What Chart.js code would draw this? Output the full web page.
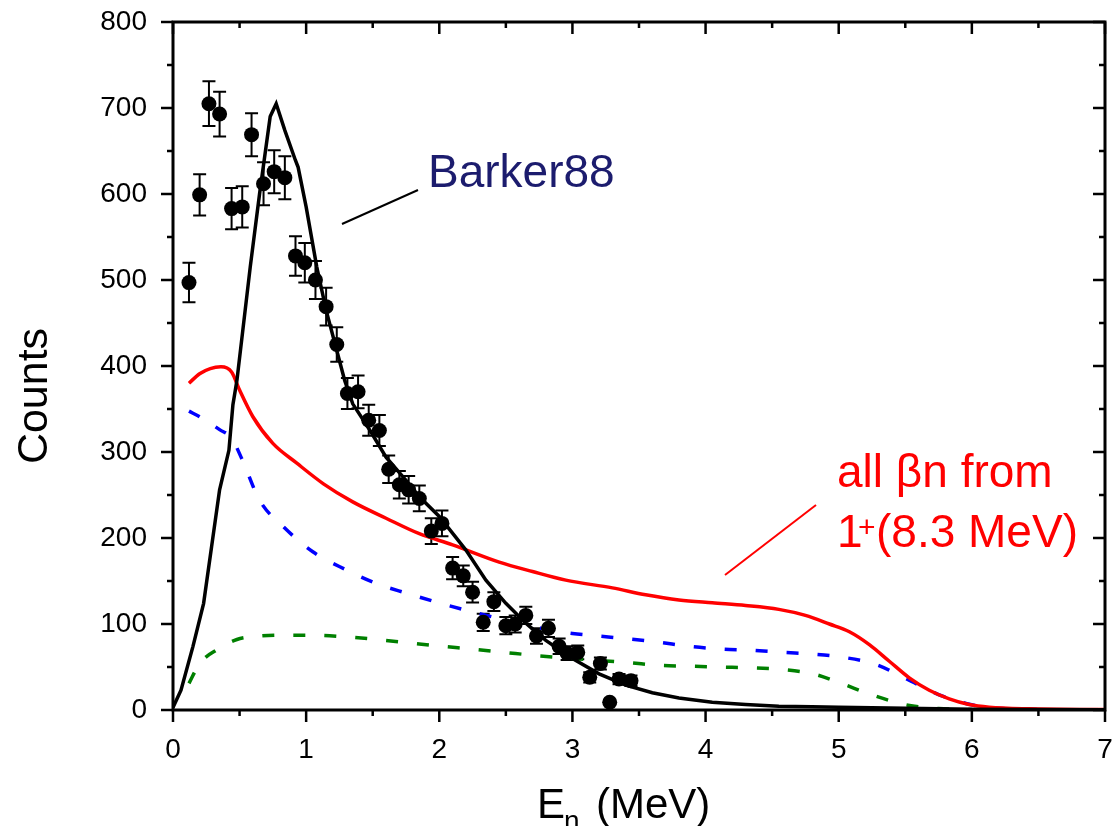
<!DOCTYPE html>
<html>
<head>
<meta charset="utf-8">
<script src="https://cdn.jsdelivr.net/npm/chart.js@4.4.1/dist/chart.umd.min.js"></script>
<style>
  body { margin: 0; background: #fff; }
  canvas { display: block; }
</style>
</head>
<body>
<canvas id="spectrumChart" width="1115" height="826"></canvas>
<script>
// measured neutron energy spectrum (points with error bars)
var dataE = [0.12, 0.20, 0.27, 0.35, 0.44, 0.52, 0.59, 0.68, 0.76, 0.84, 0.92, 0.99, 1.07, 1.15, 1.23,
             1.31, 1.39, 1.47, 1.55, 1.62, 1.70, 1.77, 1.85, 1.94, 2.02, 2.10, 2.18, 2.25, 2.33, 2.41,
             2.50, 2.57, 2.65, 2.73, 2.82, 2.90, 2.96, 3.04, 3.13, 3.21, 3.28, 3.35, 3.44];
var dataCounts = [497, 599, 705, 693, 583, 585, 669, 612, 626, 619, 528, 520, 500, 469, 425,
                  368, 370, 337, 325, 280, 262, 256, 246, 208, 217, 165, 156, 137, 102, 126,
                  98, 100, 110, 86, 95, 74, 66, 67, 38, 54, 9, 36, 34];
var dataErr = [23, 24, 26, 26, 24, 24, 25, 25, 25, 25, 23, 23, 22, 22, 20,
               18, 19, 18, 18, 16, 16, 16, 15, 15, 15, 13, 12, 12, 10, 11,
               10, 10, 10, 9, 10, 9, 8, 8, 6, 7, 0, 6, 6];

// Barker88 calculation (black)
var barkerE = [0, 0.06, 0.15, 0.23, 0.29, 0.35, 0.42, 0.45, 0.48, 0.58, 0.65, 0.73, 0.775, 0.84, 0.92, 0.94,
               1.0, 1.08, 1.15, 1.23, 1.29, 1.35, 1.48, 1.6, 1.75, 1.85, 2.0, 2.2, 2.35, 2.5, 2.65, 2.8,
               3.0, 3.2, 3.4, 3.6, 3.8, 4.05, 4.3, 4.55, 4.8, 5.0, 5.5, 6.0, 6.5, 7.0];
var barkerCounts = [3, 23, 74, 124, 190, 256, 302, 355, 383, 515, 600, 690, 705, 674, 639, 631,
                    585, 515, 465, 418, 383, 356, 325, 294, 267, 248, 225, 186, 151, 124, 101, 81,
                    60, 42, 29, 20, 14, 9, 6.4, 4.5, 3.7, 3.3, 2, 1, 0.5, 0.3];

// all beta-n from 1+ (8.3 MeV) (red)
var allBnE = [0.12, 0.2, 0.28, 0.36, 0.44, 0.5, 0.6, 0.75, 0.93, 1.13, 1.35, 1.6, 1.85, 2.1, 2.45, 2.7,
              2.95, 3.3, 3.55, 3.8, 4.05, 4.3, 4.55, 4.75, 4.93, 5.08, 5.23, 5.38, 5.53, 5.68,
              5.83, 5.98, 6.13, 6.43, 7.0];
var allBnCounts = [380, 391, 397, 399, 393, 372, 341, 310, 287, 263, 242, 223, 205, 192, 172, 161,
                   151, 142, 134, 128, 124.6, 121.5, 117, 110, 100, 91, 76, 56.7, 37.4, 23,
                   13, 6.4, 3.3, 1.4, 0.5];

// blue dashed component
var blueE = [0.12, 0.2, 0.35, 0.44, 0.52, 0.65, 0.83, 1.05, 1.3, 1.53, 1.75, 2.0, 2.25, 2.5, 2.75,
             3.0, 3.2, 3.4, 3.64, 3.88, 4.11, 4.34, 4.58, 4.81, 5.0, 5.28, 5.51, 5.75, 5.99, 6.2, 6.5];
var blueCounts = [347.5, 341, 326, 316, 291, 244, 213, 184, 163, 147, 136, 124.5, 114, 104.6, 95.6,
                  89, 86, 83, 79, 74, 71, 69.5, 67, 65, 62, 53, 36, 18, 6.4, 2, 0.5];

// green dashed component
var greenE = [0.12, 0.2, 0.33, 0.48, 0.63, 0.83, 1.05, 1.3, 1.53, 1.78, 2.0, 2.25, 2.5, 2.75, 3.0,
              3.25, 3.43, 3.64, 3.88, 4.11, 4.35, 4.58, 4.81, 5.0, 5.28, 5.52, 5.75, 6.0];
var greenCounts = [31, 54, 70, 82, 85.7, 87, 87, 85, 82, 78, 74.4, 70.7, 66.8, 63, 60,
                   57, 55, 52, 51, 50, 49, 47, 42, 32, 16, 5.6, 1.7, 0.5];

var xRange = [0, 7];
var yRange = [0, 800];

var FONT = '"Liberation Sans", Arial, sans-serif';

function toPoints(xs, ys) {
    return xs.map(function (x, i) { return { x: x, y: ys[i] }; });
}

var decorPlugin = {
    id: 'decor',
    beforeDatasetsDraw: function (chart) {
        // error bars under the markers
        var ctx = chart.ctx, sx = chart.scales.x, sy = chart.scales.y;
        ctx.save();
        ctx.strokeStyle = '#000';
        ctx.lineWidth = 2;
        ctx.beginPath();
        dataE.forEach(function (e, i) {
            if (!dataErr[i]) return;
            var px = sx.getPixelForValue(e);
            var top = sy.getPixelForValue(dataCounts[i] + dataErr[i]);
            var bot = sy.getPixelForValue(dataCounts[i] - dataErr[i]);
            ctx.moveTo(px, top); ctx.lineTo(px, bot);
            ctx.moveTo(px - 6.5, top); ctx.lineTo(px + 6.5, top);
            ctx.moveTo(px - 6.5, bot); ctx.lineTo(px + 6.5, bot);
        });
        ctx.stroke();
        ctx.restore();
    },
    afterDraw: function (chart) {
        var ctx = chart.ctx, a = chart.chartArea, sx = chart.scales.x, sy = chart.scales.y;
        ctx.save();
        ctx.strokeStyle = '#000';
        ctx.lineWidth = 3;
        ctx.strokeRect(a.left, a.top, a.right - a.left, a.bottom - a.top);

        // major + minor ticks: outward on bottom/left, inward on top/right
        ctx.lineWidth = 2.5;
        ctx.beginPath();
        for (var v = xRange[0]; v <= xRange[1]; v += 0.5) {
            var px = sx.getPixelForValue(v);
            var len = (v % 1 === 0) ? 12 : 6;
            ctx.moveTo(px, a.bottom); ctx.lineTo(px, a.bottom + len);
            ctx.moveTo(px, a.top); ctx.lineTo(px, a.top + len);
        }
        for (var c = yRange[0]; c <= yRange[1]; c += 50) {
            var py = sy.getPixelForValue(c);
            var l = (c % 100 === 0) ? 12 : 6;
            ctx.moveTo(a.left, py); ctx.lineTo(a.left - l, py);
            ctx.moveTo(a.right, py); ctx.lineTo(a.right - l, py);
        }
        ctx.stroke();

        // axis titles
        ctx.fillStyle = '#000';
        ctx.textBaseline = 'alphabetic';
        ctx.save();
        ctx.translate(47, 396);
        ctx.rotate(-Math.PI / 2);
        ctx.textAlign = 'center';
        ctx.font = '43px ' + FONT;
        ctx.fillText('Counts', 0, 0);
        ctx.restore();

        ctx.textAlign = 'left';
        ctx.font = '42px ' + FONT;
        ctx.fillText('E', 537, 818);
        ctx.font = '28px ' + FONT;
        ctx.fillText('n', 564, 830);
        ctx.font = '42px ' + FONT;
        ctx.fillText('(MeV)', 596, 818);

        // Barker88 label
        ctx.strokeStyle = '#000';
        ctx.lineWidth = 2;
        ctx.beginPath();
        ctx.moveTo(342, 224); ctx.lineTo(418, 190);
        ctx.stroke();
        ctx.fillStyle = '#1c1c6e';
        ctx.font = '46px ' + FONT;
        ctx.fillText('Barker88', 428, 187);

        // red label
        ctx.strokeStyle = '#ff0000';
        ctx.beginPath();
        ctx.moveTo(725, 575); ctx.lineTo(816, 505);
        ctx.stroke();
        ctx.fillStyle = '#ff0000';
        ctx.font = '46px ' + FONT;
        ctx.fillText('all \u03B2n from', 837, 487);
        ctx.fillText('1', 837, 547);
        ctx.font = '30px ' + FONT;
        ctx.fillText('+', 858, 537);
        ctx.font = '46px ' + FONT;
        ctx.fillText('(8.3 MeV)', 876, 547);
        ctx.restore();
    }
};

var ctx = document.getElementById('spectrumChart').getContext('2d');
var spectrumChart = new Chart(ctx, {
    type: 'scatter',
    data: {
        datasets: [
            {
                label: 'data',
                data: toPoints(dataE, dataCounts),
                pointRadius: 7.5,
                pointBackgroundColor: '#000',
                pointBorderWidth: 0,
                showLine: false
            },
            {
                label: 'Barker88',
                data: toPoints(barkerE, barkerCounts),
                showLine: true,
                borderColor: '#000',
                borderWidth: 3.5,
                pointRadius: 0,
                tension: 0
            },
            {
                label: 'all bn',
                data: toPoints(allBnE, allBnCounts),
                showLine: true,
                borderColor: '#ff0000',
                borderWidth: 3.5,
                pointRadius: 0,
                cubicInterpolationMode: 'monotone'
            },
            {
                label: 'blue',
                data: toPoints(blueE, blueCounts),
                showLine: true,
                borderColor: '#0000ff',
                borderWidth: 3.5,
                borderDash: [12, 19],
                pointRadius: 0,
                cubicInterpolationMode: 'monotone'
            },
            {
                label: 'green',
                data: toPoints(greenE, greenCounts),
                showLine: true,
                borderColor: '#008000',
                borderWidth: 3.5,
                borderDash: [12, 19],
                pointRadius: 0,
                cubicInterpolationMode: 'monotone'
            }
        ]
    },
    options: {
        responsive: false,
        animation: false,
        devicePixelRatio: 1,
        layout: { padding: { top: 22, right: 10, left: 0, bottom: 0 } },
        plugins: {
            legend: { display: false },
            tooltip: { enabled: false }
        },
        scales: {
            x: {
                type: 'linear',
                min: xRange[0],
                max: xRange[1],
                afterFit: function (scale) {
                    scale.height = 116;
                    scale.paddingLeft = 0;
                    scale.paddingRight = 0;
                },
                ticks: {
                    stepSize: 1,
                    color: '#000',
                    padding: 23,
                    maxRotation: 0,
                    font: { family: FONT, size: 28 }
                },
                grid: { display: false, drawTicks: false },
                border: { display: false }
            },
            y: {
                type: 'linear',
                min: yRange[0],
                max: yRange[1],
                afterFit: function (scale) {
                    scale.width = 173;
                    scale.paddingTop = 0;
                    scale.paddingBottom = 0;
                },
                ticks: {
                    stepSize: 100,
                    color: '#000',
                    padding: 26,
                    font: { family: FONT, size: 28 }
                },
                grid: { display: false, drawTicks: false },
                border: { display: false }
            }
        }
    },
    plugins: [decorPlugin]
});
</script>
</body>
</html>
